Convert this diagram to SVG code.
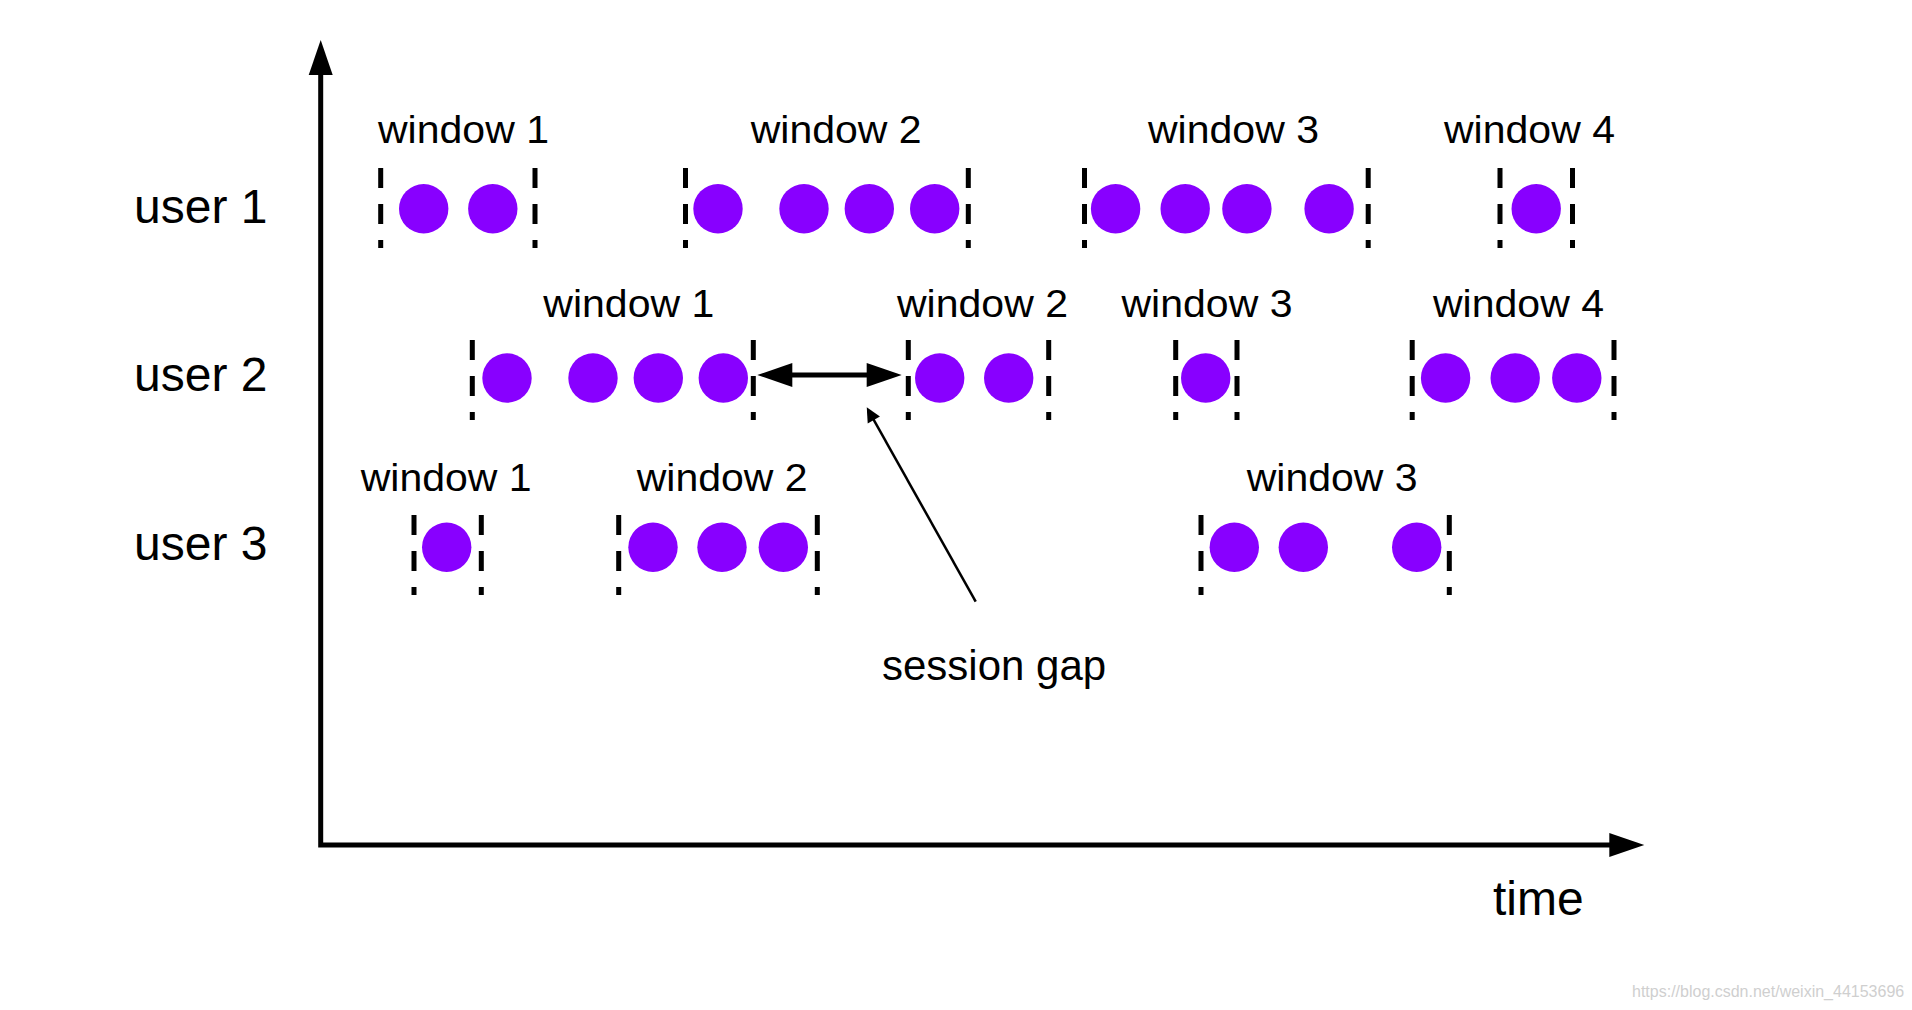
<svg xmlns="http://www.w3.org/2000/svg" width="1912" height="1010" viewBox="0 0 1912 1010">
<style>
  text { font-family: "Liberation Sans", Arial, sans-serif; fill: #000; }
  .user { font-size: 48px; }
  .wl { font-size: 38px; }
  .ev { fill: #8800ff; }
  .b { stroke: #000; stroke-width: 5; stroke-dasharray: 20 16; fill: none; }
  .axis { stroke: #000; stroke-width: 5; fill: none; stroke-linejoin: miter; }
  .gap { stroke: #000; stroke-width: 5; fill: none; }
  .ptr { stroke: #000; stroke-width: 2.5; fill: none; }
  .wm { font-size: 16px; fill: #cfcfcf; }
</style>
<defs>
  <marker id="big" markerUnits="userSpaceOnUse" markerWidth="36" markerHeight="26" refX="25" refY="12" orient="auto-start-reverse" overflow="visible">
    <path d="M0,0 L35,12 L0,24 Z" fill="#000"/>
  </marker>
  <marker id="small" markerUnits="userSpaceOnUse" markerWidth="16" markerHeight="16" refX="10.5" refY="7" orient="auto" overflow="visible">
    <path d="M0,0 L14.5,7 L0,14 Z" fill="#000"/>
  </marker>
</defs>
<rect width="1912" height="1010" fill="#fff"/>

<g id="connectors">
  <path id="axes" class="axis" d="M320.7,50 V845 H1634.3" marker-start="url(#big)" marker-end="url(#big)"/>
  <path id="session-gap-arrow" class="gap" d="M767.3,375 H891.7" marker-start="url(#big)" marker-end="url(#big)"/>
  <path id="session-gap-pointer" class="ptr" d="M975.7,601.7 L868.7,410.8" marker-end="url(#small)"/>
</g>

<g id="user-1-label"><text class="user" x="134" y="222.7">user 1</text></g>
<g id="user-2-label"><text class="user" x="134" y="390.7">user 2</text></g>
<g id="user-3-label"><text class="user" x="134" y="560">user 3</text></g>

<!-- user 1 -->
<g id="u1-window-1">
  <text class="wl" x="378" y="143.3" textLength="171" lengthAdjust="spacingAndGlyphs">window 1</text>
  <line class="b" x1="380.7" y1="168" x2="380.7" y2="248"/>
  <line class="b" x1="535" y1="168" x2="535" y2="248"/>
  <circle class="ev" cx="423.7" cy="208.7" r="24.7"/>
  <circle class="ev" cx="492.8" cy="208.7" r="24.7"/>
</g>
<g id="u1-window-2">
  <text class="wl" x="750.7" y="143.3" textLength="171" lengthAdjust="spacingAndGlyphs">window 2</text>
  <line class="b" x1="685.5" y1="168" x2="685.5" y2="248"/>
  <line class="b" x1="968.3" y1="168" x2="968.3" y2="248"/>
  <circle class="ev" cx="718" cy="208.7" r="24.7"/>
  <circle class="ev" cx="804" cy="208.7" r="24.7"/>
  <circle class="ev" cx="869.3" cy="208.7" r="24.7"/>
  <circle class="ev" cx="934.7" cy="208.7" r="24.7"/>
</g>
<g id="u1-window-3">
  <text class="wl" x="1148" y="143.3" textLength="171" lengthAdjust="spacingAndGlyphs">window 3</text>
  <line class="b" x1="1084.5" y1="168" x2="1084.5" y2="248"/>
  <line class="b" x1="1368.2" y1="168" x2="1368.2" y2="248"/>
  <circle class="ev" cx="1115.6" cy="208.7" r="24.7"/>
  <circle class="ev" cx="1185.2" cy="208.7" r="24.7"/>
  <circle class="ev" cx="1246.9" cy="208.7" r="24.7"/>
  <circle class="ev" cx="1329.1" cy="208.7" r="24.7"/>
</g>
<g id="u1-window-4">
  <text class="wl" x="1444" y="143.3" textLength="171" lengthAdjust="spacingAndGlyphs">window 4</text>
  <line class="b" x1="1500" y1="168" x2="1500" y2="248"/>
  <line class="b" x1="1572.5" y1="168" x2="1572.5" y2="248"/>
  <circle class="ev" cx="1536.2" cy="208.7" r="24.7"/>
</g>

<!-- user 2 -->
<g id="u2-window-1">
  <text class="wl" x="543.3" y="316.7" textLength="171" lengthAdjust="spacingAndGlyphs">window 1</text>
  <line class="b" x1="472.3" y1="340" x2="472.3" y2="420"/>
  <line class="b" x1="753.3" y1="340" x2="753.3" y2="420"/>
  <circle class="ev" cx="507" cy="378" r="24.7"/>
  <circle class="ev" cx="593" cy="378" r="24.7"/>
  <circle class="ev" cx="658.3" cy="378" r="24.7"/>
  <circle class="ev" cx="723.3" cy="378" r="24.7"/>
</g>
<g id="u2-window-2">
  <text class="wl" x="897" y="316.7" textLength="171" lengthAdjust="spacingAndGlyphs">window 2</text>
  <line class="b" x1="908.3" y1="340" x2="908.3" y2="420"/>
  <line class="b" x1="1048.7" y1="340" x2="1048.7" y2="420"/>
  <circle class="ev" cx="939.7" cy="378" r="24.7"/>
  <circle class="ev" cx="1008.7" cy="378" r="24.7"/>
</g>
<g id="u2-window-3">
  <text class="wl" x="1121.5" y="316.7" textLength="171" lengthAdjust="spacingAndGlyphs">window 3</text>
  <line class="b" x1="1175.7" y1="340" x2="1175.7" y2="420"/>
  <line class="b" x1="1237" y1="340" x2="1237" y2="420"/>
  <circle class="ev" cx="1205.7" cy="378" r="24.7"/>
</g>
<g id="u2-window-4">
  <text class="wl" x="1433" y="316.7" textLength="171" lengthAdjust="spacingAndGlyphs">window 4</text>
  <line class="b" x1="1412.2" y1="340" x2="1412.2" y2="420"/>
  <line class="b" x1="1614" y1="340" x2="1614" y2="420"/>
  <circle class="ev" cx="1445.6" cy="378" r="24.7"/>
  <circle class="ev" cx="1515.2" cy="378" r="24.7"/>
  <circle class="ev" cx="1576.8" cy="378" r="24.7"/>
</g>

<!-- user 3 -->
<g id="u3-window-1">
  <text class="wl" x="360.7" y="490.7" textLength="171" lengthAdjust="spacingAndGlyphs">window 1</text>
  <line class="b" x1="414" y1="515" x2="414" y2="595"/>
  <line class="b" x1="481.3" y1="515" x2="481.3" y2="595"/>
  <circle class="ev" cx="446.7" cy="547.3" r="24.7"/>
</g>
<g id="u3-window-2">
  <text class="wl" x="636.7" y="490.7" textLength="171" lengthAdjust="spacingAndGlyphs">window 2</text>
  <line class="b" x1="618.7" y1="515" x2="618.7" y2="595"/>
  <line class="b" x1="817.3" y1="515" x2="817.3" y2="595"/>
  <circle class="ev" cx="653" cy="547.3" r="24.7"/>
  <circle class="ev" cx="722" cy="547.3" r="24.7"/>
  <circle class="ev" cx="783.3" cy="547.3" r="24.7"/>
</g>
<g id="u3-window-3">
  <text class="wl" x="1246.7" y="490.7" textLength="171" lengthAdjust="spacingAndGlyphs">window 3</text>
  <line class="b" x1="1201" y1="515" x2="1201" y2="595"/>
  <line class="b" x1="1449.3" y1="515" x2="1449.3" y2="595"/>
  <circle class="ev" cx="1234.3" cy="547.3" r="24.7"/>
  <circle class="ev" cx="1303.3" cy="547.3" r="24.7"/>
  <circle class="ev" cx="1416.7" cy="547.3" r="24.7"/>
</g>

<g id="session-gap-label"><text x="882" y="680" font-size="42">session gap</text></g>
<g id="time-label"><text x="1493" y="915" font-size="48">time</text></g>
<text class="wm" x="1632" y="996.7">https://blog.csdn.net/weixin_44153696</text>
</svg>
